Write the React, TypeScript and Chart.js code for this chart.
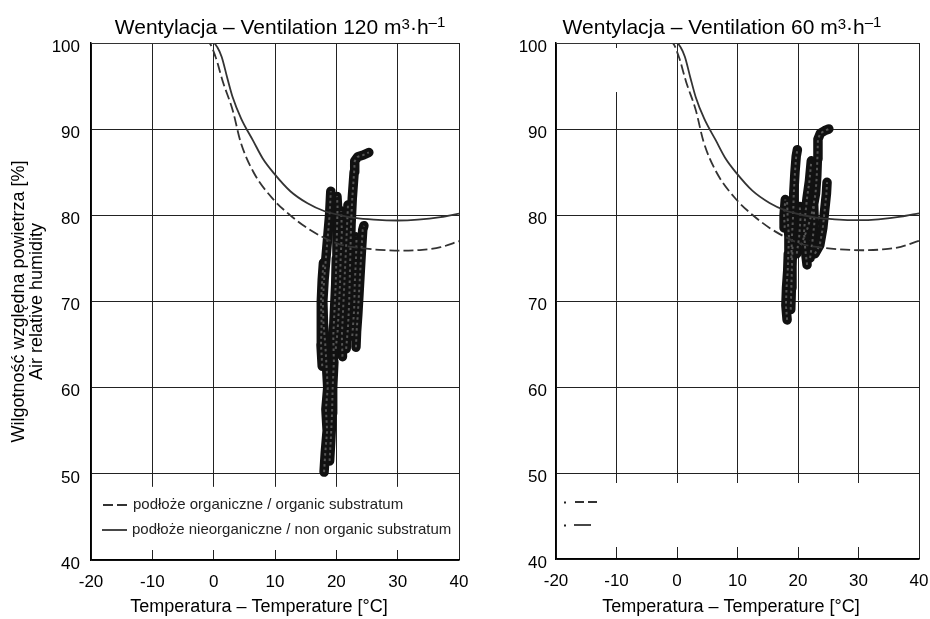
import React, { useEffect, useRef } from 'react';
import { Chart, registerables } from 'chart.js';

Chart.register(...registerables);

const FONT = '"Liberation Sans", Arial, sans-serif';

// Axis ticks
const xTicks = [-20, -10, 0, 10, 20, 30, 40];
const yTicks = [40, 50, 60, 70, 80, 90, 100];

// Limit curves (temperature, relative humidity)
const organicT = [-20, -0.8, 0.3, 1.5, 3.1, 4.4, 6.5, 9.8, 12.5, 15.3, 18, 20.7, 24, 27, 30.5, 34, 37, 40];
const organicRH = [100, 100, 98.4, 95.5, 92.2, 88.5, 85, 81.8, 80, 78.5, 77.4, 76.6, 76.2, 76, 75.9, 76, 76.3, 77];
const inorganicT = [-20, 0, 0.6, 1.3, 2.2, 3.1, 4.5, 6.4, 8, 9.8, 12.5, 15.3, 18, 20.7, 23, 26.1, 30, 33.3, 37, 40];
const inorganicRH = [100, 100, 99.5, 98.4, 96, 93.7, 91.2, 88.7, 86.6, 84.9, 82.8, 81.4, 80.5, 80, 79.7, 79.5, 79.4, 79.5, 79.8, 80.2];

const legendLabels = [
  'podłoże organiczne / organic substratum',
  'podłoże nieorganiczne / non organic substratum',
];

// Measured trajectories, ventilation 120 m3/h  [T, RH]
const v120A: [number, number][] = [[18.0, 50.2], [18.2, 52.5], [18.5, 55], [18.3, 57.5], [18.6, 60], [18.4, 62.5], [18.2, 65], [17.9, 67.5], [17.8, 70], [18.0, 72.5], [18.3, 75], [18.6, 77.5], [18.9, 80], [19.1, 82.8]];
const v120B: [number, number][] = [[18.9, 51.5], [19.1, 54], [19.3, 57], [19.4, 60], [19.6, 63], [19.5, 66], [19.7, 69], [19.9, 72], [20.0, 75], [20.1, 78], [20.2, 81], [20.1, 82.2]];
const v120C: [number, number][] = [[21.0, 63.6], [20.9, 66], [21.1, 69], [21.3, 72], [21.5, 75], [21.7, 78], [21.9, 81.2]];
const v120D: [number, number][] = [[21.6, 64.5], [21.9, 67], [22.1, 70], [22.2, 73], [22.3, 76], [22.4, 79], [22.6, 82], [22.9, 85], [23.0, 86.3], [23.5, 86.8], [24.4, 87.0], [25.3, 87.3]];
const v120E: [number, number][] = [[23.2, 64.7], [23.3, 66.5], [23.5, 68.5], [23.7, 71], [23.9, 73.5], [24.1, 76], [24.3, 78.3], [24.5, 78.8]];
const v120F: [number, number][] = [[19.9, 64.5], [20.2, 66.5], [20.4, 69], [20.6, 72], [20.7, 75], [20.9, 78], [20.8, 80.5]];
const v120G: [number, number][] = [[17.7, 62.5], [17.5, 65], [17.6, 67.5], [17.5, 70], [17.7, 72.5], [17.9, 74.5]];
const v120H: [number, number][] = [[22.6, 66], [22.9, 69], [23.0, 72], [23.2, 75], [23.3, 77.5]];

// Measured trajectories, ventilation 60 m3/h  [T, RH]
const v60A: [number, number][] = [[18.2, 67.8], [18.0, 69.5], [18.1, 71.5], [18.3, 73.5], [18.4, 75.5], [18.5, 77.5], [18.3, 79.5], [18.2, 81.5]];
const v60A2: [number, number][] = [[18.8, 69], [18.9, 71.5], [19.0, 74], [19.1, 76.5]];
const v60B: [number, number][] = [[18.9, 75], [19.0, 77.5], [19.2, 80], [19.3, 82.5], [19.5, 85], [19.7, 86.8], [19.9, 87.6]];
const v60C: [number, number][] = [[21.5, 74.2], [21.2, 76], [21.0, 78], [21.2, 80], [21.5, 82], [21.9, 84], [22.2, 86.3]];
const v60D: [number, number][] = [[20.5, 76.5], [21.6, 78.5], [22.4, 80.5], [22.9, 82.5], [23.1, 84.5], [23.2, 86.5], [23.3, 88.8], [23.7, 89.5], [24.4, 89.8], [25.1, 90.0]];
const v60E: [number, number][] = [[22.8, 75.5], [23.6, 76.5], [24.1, 78.5], [24.4, 80.5], [24.7, 82.5], [24.8, 83.8]];
const v60F: [number, number][] = [[17.8, 78.5], [17.7, 80], [17.9, 81.8]];
const v60G: [number, number][] = [[19.8, 75.5], [20.2, 77.5], [20.4, 79.5], [20.3, 81]];
const v60H: [number, number][] = [[22.0, 75], [22.4, 77], [22.7, 79], [22.6, 81]];

const xTitle = 'Temperatura – Temperature [°C]';
const yTitle = ['Wilgotność względna powietrza [%]', 'Air relative humidity'];

const toPts = (xs: number[], ys: number[]) => xs.map((x, i) => ({ x, y: ys[i] }));

function strandSets(strands: [number, number][][]) {
  const out: any[] = [];
  strands.forEach((s) => {
    const data = s.map(([x, y]) => ({ x, y }));
    out.push({
      data, showLine: true, borderColor: '#111', borderWidth: 9.5, pointRadius: 0,
      borderCapStyle: 'round', borderJoinStyle: 'round', order: 3,
    });
    out.push({
      data, showLine: true, borderColor: '#555', borderWidth: 2, borderDash: [2.5, 3], pointRadius: 0,
      order: 2,
    });
  });
  return out;
}

interface Cfg {
  flow: string;
  strands: [number, number][][];
  showYTitle: boolean;
  areaLeft: number;
  padRight: number;
  xHeight: number;
  yPad: number;
  titleCenter: number;
  xTitleCenter: number;
  fullLegend: boolean;
  gapOnMinus10: boolean;
  maskTop: number;
  maskBottom: number;
}

function buildChart(canvas: HTMLCanvasElement, c: Cfg) {
  const titlePlugin = {
    id: 'ventTitle',
    afterDraw(chart: any) {
      const ctx = chart.ctx;
      const main = `21px ${FONT}`;
      const sup = `15px ${FONT}`;
      const parts: any[] = [
        { t: `Wentylacja – Ventilation ${c.flow} m`, f: main, dy: 0 },
        { t: '3', f: sup, dy: -5 },
        { t: '·h', f: main, dy: 0 },
        { t: '–1', f: sup, dy: -7 },
      ];
      ctx.save();
      let total = 0;
      parts.forEach((p) => { ctx.font = p.f; p.w = ctx.measureText(p.t).width; total += p.w; });
      let x = c.titleCenter - total / 2;
      const baseY = chart.chartArea.top - 9;
      ctx.fillStyle = '#000';
      ctx.textAlign = 'left';
      ctx.textBaseline = 'alphabetic';
      parts.forEach((p) => { ctx.font = p.f; ctx.fillText(p.t, x, baseY + p.dy); x += p.w; });
      // x axis title
      ctx.font = `18px ${FONT}`;
      ctx.textAlign = 'center';
      ctx.textBaseline = 'middle';
      ctx.fillText(xTitle, c.xTitleCenter, chart.height - 12);
      ctx.restore();
    },
  };

  const maskPlugin = {
    id: 'mask',
    beforeDatasetsDraw(chart: any) {
      const { ctx, chartArea } = chart;
      const ys = chart.scales.y;
      const xs = chart.scales.x;
      const y50 = ys.getPixelForValue(50);
      const y40 = ys.getPixelForValue(40);
      ctx.save();
      ctx.fillStyle = '#fff';
      const top = y50 + c.maskTop;
      ctx.fillRect(chartArea.left + 1, top, chartArea.width - 2, y40 - c.maskBottom - top);
      if (c.gapOnMinus10) {
        const xm = xs.getPixelForValue(-10);
        const g1 = ys.getPixelForValue(100) + 5;
        const g2 = ys.getPixelForValue(94.3);
        ctx.fillRect(xm - 2, g1, 4, g2 - g1);
      }
      ctx.restore();
    },
  };

  const legendPlugin = {
    id: 'innerLegend',
    afterDatasetsDraw(chart: any) {
      const { ctx, chartArea } = chart;
      ctx.save();
      ctx.strokeStyle = '#333';
      ctx.lineWidth = 1.8;
      ctx.fillStyle = '#222';
      ctx.font = `15px ${FONT}`;
      ctx.textBaseline = 'middle';
      ctx.textAlign = 'left';
      if (c.fullLegend) {
        const rows = [
          { dash: [10, 4], y: chartArea.bottom - 55, x0: 12, x1: 36, tx: 42 },
          { dash: [], y: chartArea.bottom - 30, x0: 11, x1: 36, tx: 41 },
        ];
        rows.forEach((r, i) => {
          ctx.setLineDash(r.dash);
          ctx.beginPath();
          ctx.moveTo(chartArea.left + r.x0, r.y);
          ctx.lineTo(chartArea.left + r.x1, r.y);
          ctx.stroke();
          ctx.setLineDash([]);
          ctx.fillText(legendLabels[i], chartArea.left + r.tx, r.y);
        });
      } else {
        const rows = [
          { dash: [9, 4], y: chartArea.bottom - 57, x0: 19, x1: 41 },
          { dash: [], y: chartArea.bottom - 34, x0: 18, x1: 35 },
        ];
        rows.forEach((r) => {
          ctx.fillRect(chartArea.left + 8, r.y - 0.5, 2, 2);
          ctx.setLineDash(r.dash);
          ctx.beginPath();
          ctx.moveTo(chartArea.left + r.x0, r.y);
          ctx.lineTo(chartArea.left + r.x1, r.y);
          ctx.stroke();
          ctx.setLineDash([]);
        });
      }
      ctx.restore();
    },
  };

  const datasets: any[] = [
    {
      data: toPts(organicT, organicRH), showLine: true, borderColor: '#333', borderWidth: 1.8,
      borderDash: [10, 4], pointRadius: 0, cubicInterpolationMode: 'monotone', order: 0,
    },
    {
      data: toPts(inorganicT, inorganicRH), showLine: true, borderColor: '#333', borderWidth: 1.8,
      pointRadius: 0, cubicInterpolationMode: 'monotone', order: 0,
    },
    ...strandSets(c.strands),
  ];

  const tickFont = { family: FONT, size: 17 };

  return new Chart(canvas, {
    type: 'scatter',
    data: { datasets },
    plugins: [maskPlugin, legendPlugin, titlePlugin],
    options: {
      animation: false,
      responsive: false,
      events: [],
      layout: { padding: { left: 0, top: 43, right: c.padRight, bottom: 0 } },
      plugins: { legend: { display: false }, tooltip: { enabled: false }, title: { display: false } },
      scales: {
        x: {
          type: 'linear', min: -20, max: 40,
          afterBuildTicks: (s: any) => { s.ticks = xTicks.map((v) => ({ value: v })); },
          afterFit: (s: any) => { s.height = c.xHeight; s.paddingLeft = 0; s.paddingRight = 0; },
          ticks: { font: tickFont, color: '#000', padding: 12, maxRotation: 0, autoSkip: false, callback: (v: any) => String(v) },
          grid: { color: '#222', lineWidth: 1, drawTicks: false },
          border: { color: '#000', width: 1.5 },
          title: { display: false },
        },
        y: {
          type: 'linear', min: 40, max: 100,
          afterBuildTicks: (s: any) => { s.ticks = yTicks.map((v) => ({ value: v })); },
          afterFit: (s: any) => { s.width = c.areaLeft; s.paddingTop = 0; s.paddingBottom = 0; },
          ticks: { font: tickFont, color: '#000', padding: c.yPad, labelOffset: 4, autoSkip: false, callback: (v: any) => String(v) },
          grid: { color: '#222', lineWidth: 1, drawTicks: false },
          border: { color: '#000', width: 1.5 },
          title: {
            display: c.showYTitle, text: yTitle, color: '#000',
            font: { family: FONT, size: 18, lineHeight: 1.0 }, padding: { top: 10, bottom: 0 },
          },
        },
      },
    } as any,
  });
}

function Panel(props: { left: number; width: number; cfg: Cfg }) {
  const ref = useRef<HTMLCanvasElement | null>(null);
  useEffect(() => {
    if (!ref.current) return;
    const chart = buildChart(ref.current, props.cfg);
    return () => chart.destroy();
  }, []);
  return (
    <canvas
      ref={ref}
      width={props.width}
      height={619}
      style={{ position: 'absolute', left: props.left, top: 0, width: props.width, height: 619, display: 'block' }}
    />
  );
}

export default function App() {
  const leftCfg: Cfg = {
    flow: '120', strands: [v120A, v120B, v120C, v120D, v120E, v120F, v120G, v120H], showYTitle: true,
    areaLeft: 91, padRight: 11, xHeight: 59, yPad: 11, titleCenter: 280, xTitleCenter: 259, fullLegend: true,
    gapOnMinus10: false, maskTop: 13, maskBottom: 10,
  };
  const rightCfg: Cfg = {
    flow: '60', strands: [v60A, v60A2, v60B, v60C, v60D, v60E, v60F, v60G, v60H], showYTitle: false,
    areaLeft: 86, padRight: 11, xHeight: 60, yPad: 9, titleCenter: 252, xTitleCenter: 261, fullLegend: false,
    gapOnMinus10: true, maskTop: 10, maskBottom: 12,
  };
  return (
    <div style={{ position: 'absolute', left: 0, top: 0, width: 930, height: 619, background: '#fff' }}>
      <Panel left={0} width={470} cfg={leftCfg} />
      <Panel left={470} width={460} cfg={rightCfg} />
    </div>
  );
}
